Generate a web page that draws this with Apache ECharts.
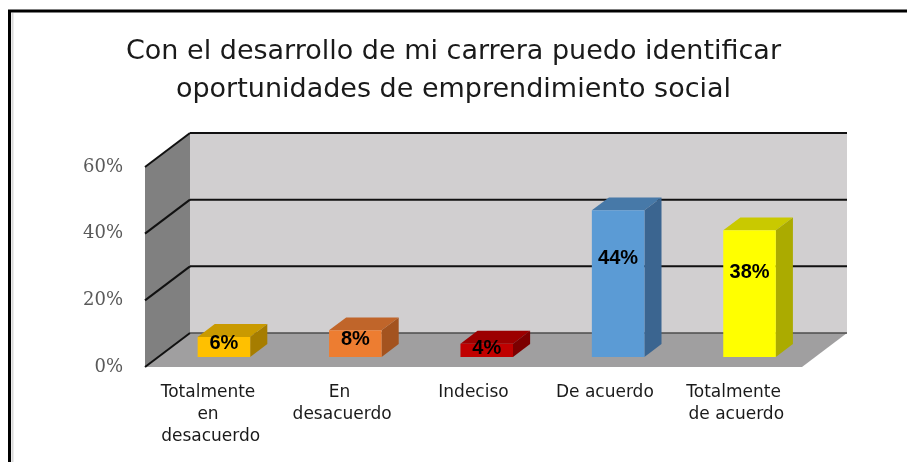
<!DOCTYPE html>
<html>
<head>
<meta charset="utf-8">
<script src="https://cdn.jsdelivr.net/npm/echarts@6/dist/echarts.min.js"></script>
<style>
  html, body { margin: 0; padding: 0; background: #fff; }
  #main { width: 907px; height: 462px; }
</style>
</head>
<body>
<div id="main"></div>
<script>
var categories = ["Totalmente en desacuerdo", "En desacuerdo", "Indeciso", "De acuerdo", "Totalmente de acuerdo"];
var values = [6, 8, 4, 44, 38];
var yTicks = [0, 20, 40, 60];

var frontColors = ["#ffc000", "#ed7d31", "#c00000", "#5b9bd5", "#ffff00"];
var topColors = ["#c99a00", "#c0652a", "#9c0000", "#4779a8", "#c9c900"];
var sideColors = ["#a67d00", "#a3531f", "#7c0000", "#3b6590", "#abab00"];

// fake 3d geometry (pixels / fractions of wall depth)
var DEPTH = [45, -34];
var BAR_FRONT = 0.294;
var BAR_DEPTH = 0.38;
var BAR_W = 0.4;

function shift(p, f) {
  return [p[0] + DEPTH[0] * f, p[1] + DEPTH[1] * f];
}

function renderWalls(params, api) {
  var cs = params.coordSys;
  var x0 = cs.x, x1 = cs.x + cs.width;
  var yb = api.coord([0, 0])[1];
  var yt = api.coord([0, yTicks[yTicks.length - 1]])[1];
  var kids = [];
  kids.push({
    type: "polygon",
    shape: { points: [shift([x0, yt], 1), shift([x1, yt], 1), shift([x1, yb], 1), shift([x0, yb], 1)] },
    style: { fill: "#d1cfd0" }
  });
  kids.push({
    type: "polygon",
    shape: { points: [[x0, yt], shift([x0, yt], 1), shift([x0, yb], 1), [x0, yb]] },
    style: { fill: "#808080" }
  });
  kids.push({
    type: "polygon",
    shape: { points: [[x0, yb], shift([x0, yb], 1), shift([x1, yb], 1), [x1, yb]] },
    style: { fill: "#a09fa0" }
  });
  yTicks.forEach(function (t) {
    var y = api.coord([0, t])[1];
    var a = [x0, y], b = shift([x0, y], 1), c = shift([x1, y], 1);
    kids.push({
      type: "polyline",
      shape: { points: [a, b] },
      style: { stroke: "#111", lineWidth: 2, fill: null }
    });
    kids.push({
      type: "polyline",
      shape: { points: [b, c] },
      style: { stroke: t === 0 ? "#4d4d4d" : "#111", lineWidth: t === 0 ? 1.5 : 2, fill: null }
    });
  });
  return { type: "group", children: kids };
}

function renderBar(params, api) {
  var i = api.value(0), v = api.value(1);
  var top = api.coord([i, v]), base = api.coord([i, 0]);
  var w = api.size([1, 0])[0] * BAR_W;
  var tl = shift([top[0] - w / 2, top[1]], BAR_FRONT);
  var tr = shift([top[0] + w / 2, top[1]], BAR_FRONT);
  var br = shift([base[0] + w / 2, base[1]], BAR_FRONT);
  var h = br[1] - tr[1];
  return {
    type: "group",
    children: [
      {
        type: "polygon",
        shape: { points: [tl, tr, shift(tr, BAR_DEPTH), shift(tl, BAR_DEPTH)] },
        style: { fill: topColors[i] }
      },
      {
        type: "polygon",
        shape: { points: [tr, shift(tr, BAR_DEPTH), shift(br, BAR_DEPTH), br] },
        style: { fill: sideColors[i] }
      },
      {
        type: "rect",
        shape: { x: tl[0], y: tl[1], width: w, height: h },
        style: { fill: frontColors[i] }
      },
      {
        type: "text",
        style: {
          text: v + "%",
          x: tl[0] + w / 2,
          y: tl[1] + h * 0.33,
          align: "center",
          verticalAlign: "middle",
          fontFamily: "Liberation Sans",
          fontWeight: "bold",
          fontSize: 20,
          fill: "#000"
        }
      }
    ]
  };
}

var chart = echarts.init(document.getElementById("main"));
chart.setOption({
  animation: false,
  backgroundColor: "#fff",
  title: {
    text: "Con el desarrollo de mi carrera puedo identificar\noportunidades de emprendimiento social",
    left: "center",
    top: 28,
    textStyle: {
      fontFamily: "DejaVu Sans",
      fontSize: 27,
      fontWeight: "normal",
      color: "#1a1a1a",
      lineHeight: 38
    }
  },
  graphic: [
    {
      type: "polyline",
      shape: { points: [[12.5, 462], [12.5, 13]] },
      style: { stroke: "#d9d9d9", lineWidth: 2, fill: null }
    },
    {
      type: "polyline",
      shape: { points: [[9.5, 462], [9.5, 11], [907, 11]] },
      style: { stroke: "#000", lineWidth: 3, fill: null }
    }
  ],
  grid: { left: 145, right: 105, top: 167, bottom: 95 },
  xAxis: {
    type: "category",
    data: categories,
    axisLine: { show: false },
    axisTick: { show: false },
    axisLabel: {
      interval: 0,
      margin: 15,
      fontFamily: "DejaVu Sans",
      fontSize: 17,
      lineHeight: 22,
      color: "#1a1a1a",
      width: 112,
      overflow: "break"
    }
  },
  yAxis: {
    type: "value",
    min: 0,
    max: 60,
    interval: 20,
    axisLine: { show: false },
    axisTick: { show: false },
    splitLine: { show: false },
    axisLabel: {
      formatter: "{value}%",
      margin: 22,
      fontFamily: "DejaVu Serif",
      fontSize: 18,
      color: "#595959"
    }
  },
  series: [
    {
      type: "custom",
      name: "walls",
      data: [[0, 0]],
      renderItem: renderWalls,
      silent: true,
      z: 1
    },
    {
      type: "custom",
      name: "Porcentaje",
      data: values.map(function (v, i) { return [i, v]; }),
      renderItem: renderBar,
      z: 2
    }
  ]
});
</script>
</body>
</html>
